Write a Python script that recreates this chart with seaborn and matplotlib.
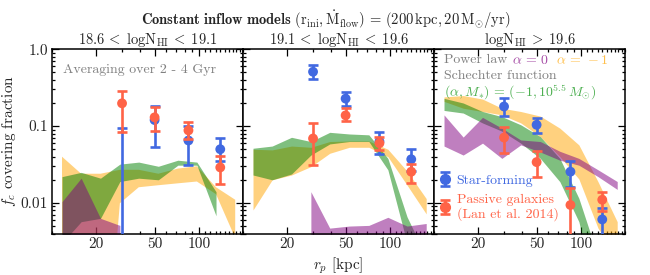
import numpy as np
import pandas as pd
import matplotlib
matplotlib.use("Agg")
import matplotlib.pyplot as plt
import seaborn as sns
from matplotlib.ticker import FixedLocator, FixedFormatter, NullFormatter
from matplotlib.legend_handler import HandlerTuple
from matplotlib.lines import Line2D

sns.set_theme(style="ticks")
plt.rcParams.update({
    "font.family": ["cmr10", "DejaVu Serif"],
    "mathtext.fontset": "cm",
    "axes.unicode_minus": False,
    "axes.formatter.use_mathtext": True,
})

# ---------------- data ----------------
r_bins = [11.7, 15.8, 21.4, 29, 39, 53, 72, 97, 131, 177]
r_obs = [30, 50, 85, 140]
nan = np.nan

panel_titles = [r"$18.6\,<\;\mathrm{logN_{HI}}\,<\;19.1$",
                r"$19.1\,<\;\mathrm{logN_{HI}}\,<\;19.6$",
                r"$\mathrm{logN_{HI}}\,>\;19.6$"]

# power law alpha = -1 (orange)
p1_orange_hi = [0.040, 0.024, 0.024, 0.027, 0.027, 0.024, 0.028, 0.030, 0.016, 0.011]
p1_orange_lo = [1e-5, 1e-5, 1e-5, 0.0099, 0.016, 0.017, 0.018, 0.019, 0.013, 0.0035]
p2_orange_hi = [0.050, 0.049, 0.055, 0.053, 0.063, 0.064, 0.064, 0.050, 0.026, 0.0114]
p2_orange_lo = [0.0081, 0.020, 0.0231, 0.0297, 0.0443, 0.053, 0.053, 0.040, 0.0171, 0.0072]
p3_orange_hi = [0.24, 0.25, 0.225, 0.171, 0.155, 0.135, 0.094, 0.057, 0.0189, 0.0057]
p3_orange_lo = [0.21, 0.171, 0.155, 0.14, 0.11, 0.073, 0.040, 0.0205, 0.0047, 0.002]

# Schechter function (green)
p1_green_hi = [0.022, 0.025, 0.021, 0.032, 0.034, 0.030, 0.036, 0.034, 0.014, nan]
p1_green_lo = [0.003, 0.0057, 0.0063, 0.019, 0.021, 0.020, 0.031, 0.031, 0.0068, nan]
p2_green_hi = [0.0515, 0.055, 0.0715, 0.063, 0.083, 0.079, 0.077, 0.038, 0.0066, 0.002]
p2_green_lo = [0.0231, 0.020, 0.0238, 0.042, 0.0586, 0.063, 0.063, 0.027, 0.003, 0.0005]
p3_green_hi = [0.23, 0.20, 0.155, 0.133, 0.104, 0.073, 0.038, 0.0115, 0.002, nan]
p3_green_lo = [0.16, 0.148, 0.11, 0.086, 0.060, 0.038, 0.0189, 0.0057, 0.0005, nan]

# power law alpha = 0 (purple)
p1_purple_hi = [0.0104, 0.021, 0.0063, 0.0051, nan, nan, nan, nan, nan, nan]
p1_purple_lo = [1e-4, 1e-4, 1e-4, 1e-4, nan, nan, nan, nan, nan, nan]
p2_purple_hi = [nan, nan, nan, 0.014, 0.0047, 0.005, 0.0051, 0.0065, 0.005, 0.0054]
p2_purple_lo = [nan, nan, nan, 1e-4, 1e-4, 1e-4, 1e-4, 1e-4, 1e-4, 1e-4]
p3_purple_hi = [0.14, 0.072, 0.13, 0.094, 0.066, 0.063, 0.047, 0.038, 0.027, 0.019]
p3_purple_lo = [0.055, 0.042, 0.060, 0.038, 0.057, 0.046, 0.036, 0.031, 0.022, 0.015]

# observations: star-forming (blue), passive (red)
p1_sf_val = [0.001, 0.12, 0.065, 0.050]
p1_sf_lo = [0.0005, 0.053, 0.031, 0.035]
p1_sf_hi = [0.094, 0.185, 0.100, 0.071]
p1_pa_val = [0.198, 0.130, 0.088, 0.029]
p1_pa_lo = [0.085, 0.086, 0.067, 0.0175]
p1_pa_hi = [0.287, 0.180, 0.114, 0.041]

p2_sf_val = [0.51, 0.228, 0.063, 0.037]
p2_sf_lo = [0.41, 0.185, 0.043, 0.026]
p2_sf_hi = [0.625, 0.280, 0.085, 0.050]
p2_pa_val = [0.069, 0.138, 0.060, 0.0255]
p2_pa_lo = [0.031, 0.117, 0.049, 0.018]
p2_pa_hi = [0.109, 0.170, 0.073, 0.032]

p3_sf_val = [0.18, 0.104, 0.0255, 0.0061]
p3_sf_lo = [0.135, 0.082, 0.016, 0.002]
p3_sf_hi = [0.234, 0.126, 0.035, 0.0085]
p3_pa_val = [0.071, 0.034, 0.0094, 0.011]
p3_pa_lo = [0.045, 0.0216, 0.002, 0.0079]
p3_pa_hi = [0.097, 0.048, 0.0155, 0.014]

x_ticks = [20, 50, 100]
x_ticklabels = ["20", "50", "100"]
y_ticks = [0.01, 0.1, 1.0]
y_ticklabels = ["0.01", "0.1", "1.0"]

bands = [
    dict(orange=(p1_orange_lo, p1_orange_hi), green=(p1_green_lo, p1_green_hi), purple=(p1_purple_lo, p1_purple_hi)),
    dict(orange=(p2_orange_lo, p2_orange_hi), green=(p2_green_lo, p2_green_hi), purple=(p2_purple_lo, p2_purple_hi)),
    dict(orange=(p3_orange_lo, p3_orange_hi), green=(p3_green_lo, p3_green_hi), purple=(p3_purple_lo, p3_purple_hi)),
]
obs = [
    (p1_sf_val, p1_sf_lo, p1_sf_hi, p1_pa_val, p1_pa_lo, p1_pa_hi),
    (p2_sf_val, p2_sf_lo, p2_sf_hi, p2_pa_val, p2_pa_lo, p2_pa_hi),
    (p3_sf_val, p3_sf_lo, p3_sf_hi, p3_pa_val, p3_pa_lo, p3_pa_hi),
]

c_orange = "orange"
c_green = "green"
c_purple = "purple"
c_blue = "royalblue"
c_red = "tomato"

# ---------------- figure ----------------
fig = plt.figure(figsize=(6.5, 2.75), dpi=100)
left, right, bottom, top = 52 / 650, 625 / 650, 1 - 233.5 / 275, 1 - 49.3 / 275
w = (right - left) / 3
axes = [fig.add_axes([left + i * w, bottom, w, top - bottom]) for i in range(3)]

for i, ax in enumerate(axes):
    b = bands[i]
    for key, col in (("orange", c_orange), ("green", c_green), ("purple", c_purple)):
        lo, hi = b[key]
        ax.fill_between(r_bins, lo, hi, color=col, alpha=0.5, lw=0, zorder=1)

    sv, sl, sh, pv, pl, ph = obs[i]
    for val, lo, hi, col, z in ((sv, sl, sh, c_blue, 3), (pv, pl, ph, c_red, 4)):
        val = np.array(val); lo = np.array(lo); hi = np.array(hi)
        eb = ax.errorbar(r_obs, val, yerr=[val - lo, hi - val], fmt="none",
                         ecolor=col, elinewidth=1.9, capsize=3.6, capthick=1.9, zorder=z)
        df = pd.DataFrame({"r": r_obs, "f": val})
        sns.scatterplot(data=df, x="r", y="f", ax=ax, color=col, s=50,
                        edgecolor="none", zorder=z + 0.5, legend=False)
        if i == 2:
            if col == c_blue:
                h_sf = (eb, Line2D([], [], marker="o", ls="none", color=col, ms=7))
            else:
                h_pa = (eb, Line2D([], [], marker="o", ls="none", color=col, ms=7))

    ax.set_xscale("log")
    ax.set_yscale("log")
    ax.set_xlim(10, 200)
    ax.set_ylim(0.004, 1.0)
    ax.xaxis.set_major_locator(FixedLocator(x_ticks))
    ax.xaxis.set_major_formatter(FixedFormatter(x_ticklabels))
    ax.xaxis.set_minor_locator(FixedLocator([v for v in range(10, 201, 10) if v not in x_ticks]))
    ax.xaxis.set_minor_formatter(NullFormatter())
    ax.yaxis.set_major_locator(FixedLocator(y_ticks))
    ax.yaxis.set_minor_locator(FixedLocator([m * 10.0 ** e for e in (-3, -2, -1) for m in range(2, 10)]))
    ax.yaxis.set_minor_formatter(NullFormatter())
    if i == 0:
        ax.yaxis.set_major_formatter(FixedFormatter(y_ticklabels))
        ax.set_ylabel(r"$f_c$ covering fraction", fontsize=11, labelpad=2)
    else:
        ax.yaxis.set_major_formatter(NullFormatter())
        ax.set_ylabel("")
    ax.set_xlabel(r"$r_p$ [kpc]" if i == 1 else "", fontsize=11, labelpad=3)
    ax.tick_params(which="both", direction="in", top=True, right=True, labelsize=11,
                   color="black", width=0.9, pad=3)
    ax.tick_params(which="major", length=5)
    ax.tick_params(which="minor", length=2.5)
    for s in ax.spines.values():
        s.set_color("black")
        s.set_linewidth(1.1)
    ax.set_title(panel_titles[i], fontsize=10.5, pad=3)

axes[0].text(0.06, 0.89, "Averaging over 2 - 4 Gyr", transform=axes[0].transAxes,
             color="gray", fontsize=10, va="center", ha="left")

ax3 = axes[2]
ax3.text(0.05, 0.94, "Power law", transform=ax3.transAxes, color="gray", fontsize=10, va="center")
ax3.text(0.41, 0.94, r"$\alpha\,=\,0$", transform=ax3.transAxes, color=c_purple, alpha=0.7, fontsize=10, va="center")
ax3.text(0.64, 0.94, r"$\alpha\,=\,-1$", transform=ax3.transAxes, color=c_orange, alpha=0.7, fontsize=10, va="center")
ax3.text(0.05, 0.855, "Schechter function", transform=ax3.transAxes, color="gray", fontsize=10, va="center")
ax3.text(0.05, 0.765, r"$(\alpha, M_{*})\,=\,(-1, 10^{5.5}\,M_{\odot})$", transform=ax3.transAxes,
         color="#4caf50", fontsize=10, va="center")

leg = ax3.legend([h_sf, h_pa], ["Star-forming", "Passive galaxies\n(Lan et al. 2014)"],
                 handler_map={tuple: HandlerTuple(ndivide=1)}, loc="lower left",
                 bbox_to_anchor=(-0.02, 0.02), frameon=False, fontsize=10,
                 handlelength=0.9, handletextpad=0.4, borderaxespad=0.2, labelspacing=0.5)
for t, c in zip(leg.get_texts(), (c_blue, c_red)):
    t.set_color(c)

fig.text(326 / 650, 1 - 20 / 275,
         r"$\mathbf{Constant\ inflow\ models}\ (\mathrm{r_{ini}},\dot{\mathrm{M}}_{\mathrm{flow}})\,=\,(200\,\mathrm{kpc}, 20\,\mathrm{M_{\odot}/yr})$",
         ha="center", va="center", fontsize=10.5)

fig.savefig("out.png", dpi=100)
